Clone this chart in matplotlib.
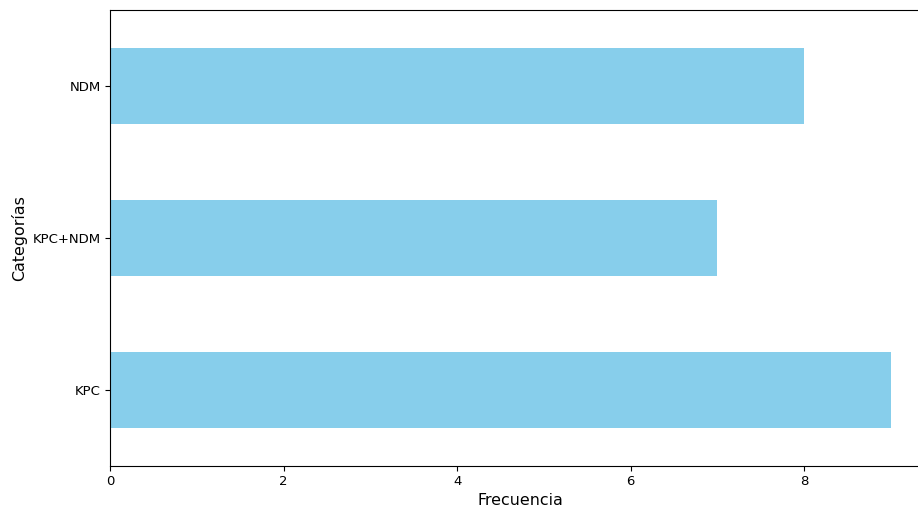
import numpy as np
import matplotlib
matplotlib.use("Agg")
import matplotlib.pyplot as plt

# ================= DATA ================= #
categorias = ["KPC", "KPC+NDM", "NDM"]
frecuencia = [9, 7, 8]

# ================= PLOT ================= #
fig = plt.figure(figsize=(9.18, 5.11), dpi=100)
# axes run past the right edge (original picture is cropped there)
ax = fig.add_axes([110 / 918, 45 / 511, 820 / 918, 456 / 511])

y = np.arange(len(categorias))
ax.barh(y, frecuencia, height=0.5, color="skyblue")
ax.set_yticks(y)
ax.set_yticklabels(categorias)
ax.set_ylim(-0.5, len(categorias) - 0.5)
ax.set_xlim(0, 9.45)
ax.set_xticks([0, 2, 4, 6, 8])
ax.tick_params(labelsize=9.5, length=3.3)

ax.set_xlabel("Frecuencia", fontsize=11.4, labelpad=3.5)
ax.set_ylabel("Categorías", fontsize=11.4, labelpad=3.5)

fig.savefig("out.png", dpi=100)
